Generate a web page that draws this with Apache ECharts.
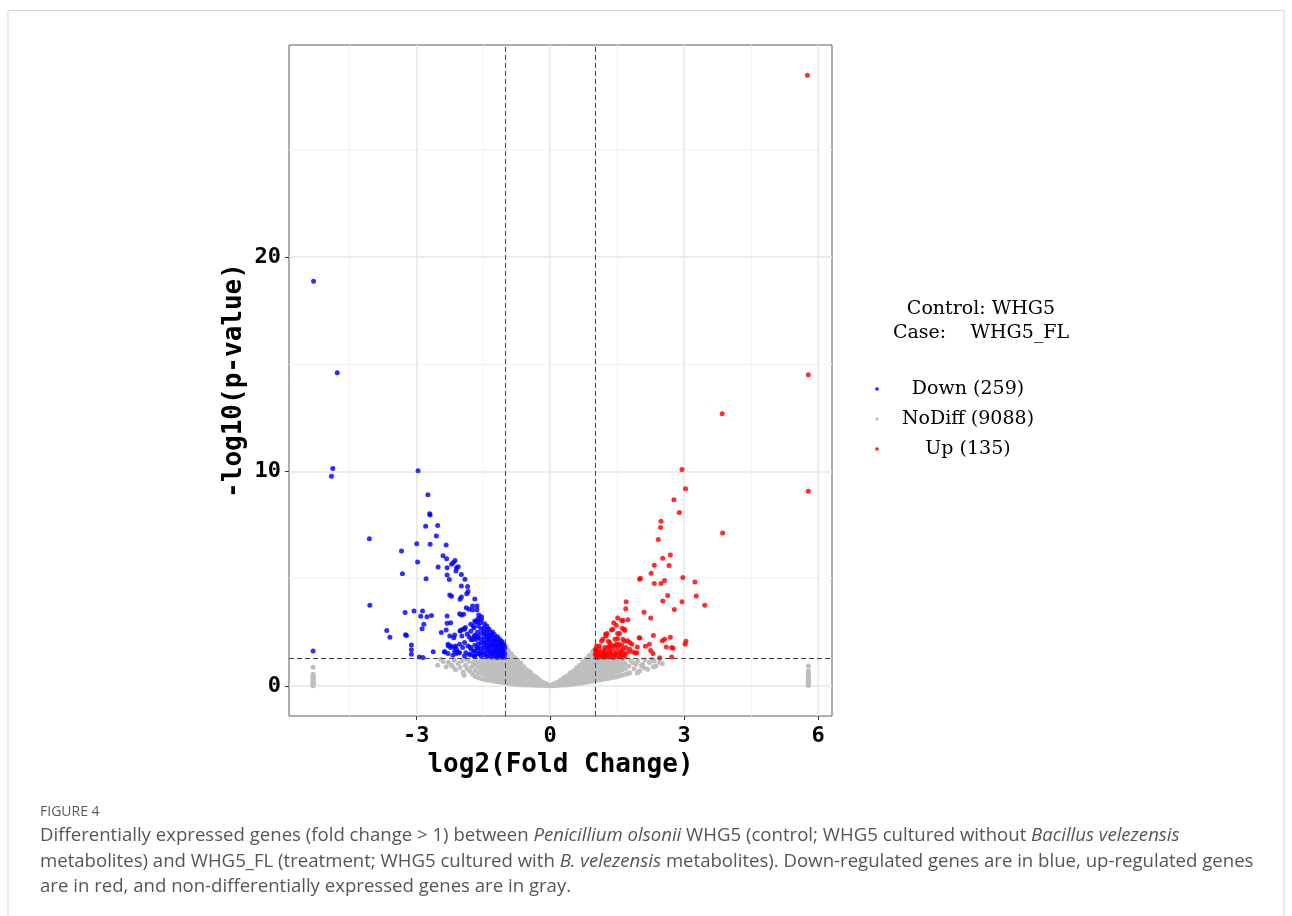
<!DOCTYPE html>
<html>
<head>
<meta charset="utf-8">
<script src="https://cdn.jsdelivr.net/npm/echarts@6/dist/echarts.min.js"></script>
<style>
  html, body { margin: 0; padding: 0; background: #ffffff; }
  #chart { width: 1292px; height: 916px; }
</style>
</head>
<body>
<div id="chart"></div>
<script>
// Volcano plot: log2 fold change vs -log10(p-value), WHG5 vs WHG5_FL

// Axis ticks
const xTicks = [-3, 0, 3, 6];
const yTicks = [0, 10, 20];
const xMinorGrid = [-4.5, -1.5, 1.5, 4.5];
const yMinorGrid = [5, 15, 25];

// Significance thresholds
const fcCut = [-1, 1];
const pCut = 1.301; // -log10(0.05)

// Legend text
const legendTitle = ['Control: WHG5', 'Case:    WHG5_FL'];
const groupNames = ['Down (259)', 'NoDiff (9088)', 'Up (135)'];

// Caption
const captionHead = 'FIGURE 4';

// Down-regulated genes [log2FC, -log10 p]
const downPoints = [
  [-5.30,18.86],[-4.77,14.60],[-4.87,10.13],[-4.90,9.77],[-4.05,6.86],[-4.04,3.76],[-5.31,1.63],
  [-3.66,2.59],[-3.59,2.27],[-3.24,2.39],[-3.22,2.35],[-3.11,1.91],[-3.11,1.69],[-3.11,1.48],
  [-3.33,6.29],[-3.31,5.23],[-3.25,3.42],[-3.05,3.49],[-2.93,1.35],[-2.85,1.33],
  [-2.96,10.03],[-2.74,8.91],[-2.70,8.02],[-2.69,7.97],[-2.79,7.44],[-2.52,7.48],[-2.55,6.99],
  [-2.99,6.63],[-2.69,6.60],[-2.33,6.57],[-2.97,5.78],[-2.40,6.07],[-2.32,5.93],[-2.21,5.67],
  [-2.17,5.75],[-2.13,5.85],[-2.51,5.54],[-2.31,5.51],[-2.10,5.51],[-2.06,5.56],[-2.11,5.36],
  [-2.31,5.17],[-1.99,5.20],[-2.78,5.00],[-2.26,4.96],[-1.91,4.97],[-1.85,4.64],[-1.99,4.66],
  [-1.84,4.40],[-1.87,4.30],[-2.25,4.24],[-2.21,4.18],[-1.99,4.15],[-2.02,4.04],[-1.69,4.05],
  [-1.88,3.65],[-1.82,3.57],[-1.74,3.73],[-1.64,3.73],[-1.74,3.54],[-1.64,3.54],[-1.60,3.31],
  [-1.54,3.23],[-2.03,3.37],[-1.99,3.31],[-1.94,3.34],[-2.31,3.26],
  [-2.86,3.49],[-2.90,3.25],[-2.76,3.23],[-2.66,3.28],[-2.83,2.87],[-2.87,2.67],
  [-2.62,1.60],[-2.31,2.92],[-2.33,2.61],[-2.23,2.95],[-2.44,2.49],[-2.14,2.38],[-2.28,1.86],
  [-2.23,1.79],[-2.36,1.58],[-2.12,1.86],[-2.10,1.70],[-2.14,1.62],[-2.06,1.57],
  [-1.96,2.64],[-2.02,2.56],[-1.90,2.72],
  [-1.62,3.13],[-1.69,3.03],[-1.67,2.98],[-1.62,3.00],[-1.78,2.87],[-1.72,2.79],
  [-1.92,2.64],[-2.01,2.59],[-1.98,2.33],[-1.86,2.41],[-1.81,2.28],[-1.69,2.36],[-1.62,2.33],
  [-1.73,2.17],[-1.66,2.16],
  [-2.25,2.33],[-2.16,2.25],[-2.29,1.94],[-2.22,1.86],[-2.14,1.79],[-2.03,1.94],[-1.92,2.02],
  [-1.96,1.79],[-1.84,1.86],[-1.77,1.71],[-1.69,1.63],[-1.62,1.79],[-1.89,1.55],[-2.03,1.55],
  [-2.10,1.51],[-2.29,1.51],[-2.18,1.43],[-2.37,1.60],[-1.92,1.40],[-1.81,1.48],[-1.69,1.40],[-1.58,1.51],
  [-1.03,1.36],[-1.02,1.50],[-1.04,1.64],[-1.02,1.77],[-1.03,1.90],
  [-1.08,1.34],[-1.09,1.45],[-1.07,1.59],[-1.08,1.72],[-1.09,1.85],[-1.07,1.98],[-1.08,2.07],
  [-1.13,1.39],[-1.14,1.52],[-1.12,1.66],[-1.13,1.81],[-1.14,1.94],[-1.12,2.06],[-1.13,2.18],
  [-1.19,1.33],[-1.18,1.47],[-1.20,1.61],[-1.19,1.75],[-1.18,1.89],[-1.20,2.02],[-1.19,2.15],[-1.18,2.29],
  [-1.24,1.41],[-1.25,1.55],[-1.23,1.70],[-1.24,1.84],[-1.25,1.98],[-1.24,2.12],[-1.23,2.26],[-1.25,2.40],
  [-1.30,1.35],[-1.31,1.50],[-1.29,1.64],[-1.30,1.79],[-1.31,1.93],[-1.29,2.08],[-1.30,2.22],[-1.31,2.37],[-1.29,2.52],
  [-1.36,1.42],[-1.35,1.58],[-1.37,1.73],[-1.36,1.88],[-1.35,2.04],[-1.37,2.19],[-1.36,2.35],[-1.35,2.50],[-1.37,2.64],
  [-1.42,1.37],[-1.43,1.52],[-1.41,1.68],[-1.42,1.85],[-1.43,2.01],[-1.41,2.16],[-1.42,2.33],[-1.43,2.49],[-1.41,2.66],[-1.42,2.80],
  [-1.48,1.45],[-1.49,1.62],[-1.47,1.80],[-1.48,1.98],[-1.49,2.14],[-1.47,2.32],[-1.48,2.52],[-1.49,2.70],[-1.47,2.90],
  [-1.55,1.40],[-1.56,1.58],[-1.54,1.77],[-1.55,2.00],[-1.56,2.20],[-1.54,2.44],[-1.55,2.66],[-1.56,2.95],[-1.54,3.10],
  [-1.62,1.50],[-1.63,1.72],[-1.61,1.95],[-1.62,2.25],[-1.63,2.50],[-1.61,2.80],
  [-1.70,1.38],[-1.71,1.62],[-1.69,1.90],[-1.70,2.30],[-1.71,2.70],
  [-1.78,1.45],[-1.79,1.80],[-1.77,2.15],[-1.78,2.55]
];

// Up-regulated genes [log2FC, -log10 p]
const upPoints = [
  [5.76,28.46],[5.78,14.50],[3.85,12.69],[2.95,10.09],[3.03,9.19],[5.78,9.07],[2.77,8.68],
  [2.89,8.08],[2.48,7.67],[2.47,7.39],[3.86,7.13],[2.42,6.82],[2.69,6.10],[2.52,5.95],
  [2.33,5.62],[2.66,5.61],[2.26,5.25],[2.00,4.97],[2.02,5.02],[2.33,4.77],[2.48,4.77],
  [2.56,4.92],[2.97,5.05],[3.24,4.84],[2.63,4.22],[3.27,4.19],[2.52,3.96],[2.95,3.93],
  [3.46,3.76],[2.78,3.56],
  [1.70,3.93],[1.69,3.60],[1.74,3.09],[1.51,3.17],[1.60,3.05],[1.63,3.05],[1.42,2.95],
  [1.48,2.83],[1.61,2.69],[1.66,2.64],[1.67,2.58],[1.55,2.44],[1.40,2.64],[1.37,2.61],
  [1.27,2.45],[1.24,2.41],[1.18,2.18],[1.15,2.10],[1.30,2.08],[1.45,2.18],[1.51,2.21],
  [1.63,2.18],[1.66,2.08],[1.73,2.11],[1.54,1.94],[1.60,1.90],[1.37,1.90],[1.33,1.84],
  [1.22,1.79],[1.10,1.71],[1.04,1.86],[1.03,1.63],[1.83,1.94],[1.95,1.82],[1.99,2.25],
  [2.01,2.24],[2.10,3.43],[2.25,3.17],[2.31,2.35],[2.51,2.11],[2.69,2.27],[2.60,1.82],
  [2.72,1.79],[2.75,1.76],[3.04,2.08],[3.02,1.94],[2.13,1.85],[2.25,1.65],[2.30,1.51],
  [2.45,1.32],[2.72,1.35],[1.91,1.52],[1.94,1.55],
  [1.03,1.40],[1.14,1.43],[1.25,1.40],[1.37,1.43],[1.48,1.40],[1.09,1.52],[1.18,1.58],
  [1.25,1.55],[1.33,1.63],[1.40,1.71],[1.48,1.58],[1.55,1.55],[1.63,1.71],[1.69,1.79],
  [1.75,1.58],[1.22,1.68],[1.29,1.79],[1.44,1.86],[1.51,1.79],[1.59,1.63],[1.66,1.52],
  [1.78,1.71],[1.85,1.58],[1.10,1.86],[1.01,1.71],[1.01,1.48],
  [1.06,1.33],[1.12,1.36],[1.20,1.34],[1.30,1.35],[1.42,1.33],[1.55,1.36],[1.62,1.34],
  [1.07,1.46],[1.16,1.50],[1.35,1.52],[1.44,1.49],[1.58,1.45],[1.68,1.42],[1.21,1.45],
  [1.05,1.55],[1.28,1.47],
  [1.25,2.33],[1.51,2.45],[1.33,2.02],[1.48,1.94],[1.78,2.02],[2.22,1.94],[2.56,2.18]
];

// Non-differential genes [log2FC, -log10 p]
const noDiffPoints = [
  // column of extreme negative fold changes
  [-5.31,0.87],[-5.31,0.55],[-5.31,0.48],[-5.31,0.42],[-5.31,0.36],[-5.31,0.30],[-5.31,0.25],
  [-5.31,0.20],[-5.31,0.15],[-5.31,0.10],[-5.31,0.06],[-5.31,0.03],[-5.31,0.01],
  // column of extreme positive fold changes
  [5.78,0.93],[5.78,0.70],[5.78,0.62],[5.78,0.55],[5.78,0.48],[5.78,0.41],[5.78,0.35],
  [5.78,0.28],[5.78,0.22],[5.78,0.16],[5.78,0.11],[5.78,0.06],[5.78,0.02],
  // left arm
  [-0.04,0.01],[-0.04,0.05],
  [-0.10,0.01],[-0.10,0.06],[-0.10,0.11],
  [-0.17,0.02],[-0.17,0.10],[-0.17,0.19],
  [-0.24,0.02],[-0.24,0.11],[-0.24,0.20],[-0.24,0.29],
  [-0.31,0.03],[-0.31,0.13],[-0.31,0.24],[-0.31,0.35],[-0.31,0.41],
  [-0.38,0.03],[-0.38,0.14],[-0.38,0.26],[-0.38,0.38],[-0.38,0.50],
  [-0.45,0.04],[-0.45,0.16],[-0.45,0.29],[-0.45,0.42],[-0.45,0.55],[-0.45,0.65],
  [-0.52,0.05],[-0.52,0.18],[-0.52,0.32],[-0.52,0.46],[-0.52,0.60],[-0.52,0.74],
  [-0.59,0.05],[-0.59,0.19],[-0.59,0.34],[-0.59,0.49],[-0.59,0.64],[-0.59,0.79],[-0.59,0.90],
  [-0.66,0.06],[-0.66,0.21],[-0.66,0.37],[-0.66,0.53],[-0.66,0.69],[-0.66,0.85],[-0.66,1.01],[-0.66,1.07],
  [-0.73,0.07],[-0.73,0.23],[-0.73,0.39],[-0.73,0.56],[-0.73,0.73],[-0.73,0.90],[-0.73,1.06],[-0.73,1.21],
  [-0.80,0.08],[-0.80,0.25],[-0.80,0.42],[-0.80,0.60],[-0.80,0.78],[-0.80,0.96],[-0.80,1.14],[-0.80,1.33],
  [-0.87,0.10],[-0.87,0.27],[-0.87,0.45],[-0.87,0.64],[-0.87,0.83],[-0.87,1.02],[-0.87,1.21],[-0.87,1.40],[-0.87,1.50],
  [-0.94,0.12],[-0.94,0.30],[-0.94,0.49],[-0.94,0.68],[-0.94,0.87],[-0.94,1.06],[-0.94,1.26],[-0.94,1.46],[-0.94,1.66],
  [-0.99,0.14],[-0.99,0.33],[-0.99,0.52],[-0.99,0.72],[-0.99,0.92],[-0.99,1.12],[-0.99,1.32],[-0.99,1.52],[-0.99,1.70],[-0.99,1.84],
  [-1.05,0.16],[-1.05,0.34],[-1.05,0.53],[-1.05,0.72],[-1.05,0.91],[-1.05,1.10],[-1.05,1.27],
  [-1.12,0.18],[-1.12,0.36],[-1.12,0.55],[-1.12,0.74],[-1.12,0.93],[-1.12,1.12],[-1.12,1.27],
  [-1.19,0.20],[-1.19,0.39],[-1.19,0.58],[-1.19,0.77],[-1.19,0.96],[-1.19,1.14],[-1.19,1.28],
  [-1.26,0.22],[-1.26,0.41],[-1.26,0.60],[-1.26,0.79],[-1.26,0.98],[-1.26,1.17],
  [-1.33,0.25],[-1.33,0.44],[-1.33,0.63],[-1.33,0.82],[-1.33,1.01],[-1.33,1.20],
  [-1.40,0.27],[-1.40,0.47],[-1.40,0.66],[-1.40,0.86],[-1.40,1.05],[-1.40,1.24],
  [-1.47,0.30],[-1.47,0.52],[-1.47,0.74],[-1.47,0.95],[-1.47,1.16],
  [-1.54,0.34],[-1.54,0.58],[-1.54,0.80],[-1.54,1.02],[-1.54,1.25],
  [-1.61,0.38],[-1.61,0.63],[-1.61,0.88],[-1.61,1.12],
  [-1.68,0.44],[-1.68,0.72],[-1.68,0.98],[-1.68,1.22],
  [-1.74,0.55],[-1.76,0.90],[-1.72,1.08],[-1.80,0.68],[-1.82,1.14],[-1.86,0.80],[-1.90,0.97],
  [-1.88,1.25],[-1.95,0.64],[-1.98,1.18],[-2.02,0.86],[-2.06,1.05],[-2.12,0.76],[-2.15,1.20],
  [-2.22,0.98],[-2.28,1.10],[-2.33,0.90],[-2.40,1.14],[-2.52,0.96],[-2.18,0.90],[-1.93,0.50],[-2.45,1.25],
  // right arm
  [0.04,0.01],[0.04,0.05],
  [0.10,0.01],[0.10,0.06],[0.10,0.11],
  [0.17,0.02],[0.17,0.10],[0.17,0.18],
  [0.24,0.03],[0.24,0.11],[0.24,0.20],[0.24,0.28],
  [0.31,0.04],[0.31,0.13],[0.31,0.23],[0.31,0.33],[0.31,0.39],
  [0.38,0.05],[0.38,0.15],[0.38,0.26],[0.38,0.37],[0.38,0.48],
  [0.45,0.07],[0.45,0.17],[0.45,0.29],[0.45,0.41],[0.45,0.53],[0.45,0.61],
  [0.52,0.09],[0.52,0.20],[0.52,0.32],[0.52,0.45],[0.52,0.58],[0.52,0.70],
  [0.59,0.11],[0.59,0.23],[0.59,0.36],[0.59,0.49],[0.59,0.62],[0.59,0.75],[0.59,0.85],
  [0.66,0.13],[0.66,0.26],[0.66,0.39],[0.66,0.53],[0.66,0.67],[0.66,0.81],[0.66,0.96],
  [0.73,0.15],[0.73,0.29],[0.73,0.43],[0.73,0.57],[0.73,0.72],[0.73,0.87],[0.73,1.02],[0.73,1.13],
  [0.80,0.17],[0.80,0.32],[0.80,0.47],[0.80,0.62],[0.80,0.78],[0.80,0.94],[0.80,1.10],[0.80,1.26],
  [0.87,0.19],[0.87,0.35],[0.87,0.51],[0.87,0.67],[0.87,0.84],[0.87,1.01],[0.87,1.18],[0.87,1.34],[0.87,1.42],
  [0.94,0.22],[0.94,0.38],[0.94,0.55],[0.94,0.72],[0.94,0.89],[0.94,1.06],[0.94,1.24],[0.94,1.42],[0.94,1.58],
  [0.99,0.25],[0.99,0.42],[0.99,0.59],[0.99,0.77],[0.99,0.95],[0.99,1.13],[0.99,1.31],[0.99,1.49],[0.99,1.66],
  [1.05,0.27],[1.05,0.44],[1.05,0.62],[1.05,0.80],[1.05,0.98],[1.05,1.14],[1.05,1.27],
  [1.12,0.29],[1.12,0.47],[1.12,0.65],[1.12,0.83],[1.12,1.01],[1.12,1.17],[1.12,1.28],
  [1.19,0.31],[1.19,0.50],[1.19,0.68],[1.19,0.86],[1.19,1.04],[1.19,1.20],
  [1.26,0.34],[1.26,0.53],[1.26,0.72],[1.26,0.90],[1.26,1.08],[1.26,1.25],
  [1.33,0.36],[1.33,0.56],[1.33,0.75],[1.33,0.94],[1.33,1.12],[1.33,1.27],
  [1.40,0.39],[1.40,0.60],[1.40,0.80],[1.40,1.00],[1.40,1.18],
  [1.47,0.42],[1.47,0.64],[1.47,0.85],[1.47,1.05],[1.47,1.24],
  [1.54,0.46],[1.54,0.69],[1.54,0.91],[1.54,1.12],
  [1.61,0.50],[1.61,0.74],[1.61,0.97],[1.61,1.19],
  [1.68,0.54],[1.68,0.80],[1.68,1.05],
  [1.74,0.58],[1.78,0.62],[1.76,0.92],[1.80,1.18],[1.85,1.09],[1.88,0.80],[1.92,1.02],
  [1.96,1.16],[2.00,0.70],[2.04,0.94],[2.07,1.01],[2.12,1.22],[2.18,0.78],[2.22,1.09],
  [2.28,1.24],[2.31,0.89],[2.33,1.16],[2.37,0.93],[2.45,1.10],[2.51,1.04],[1.95,0.60],[2.10,0.85]
];

const monoBold = { fontFamily: 'DejaVu Sans Mono', fontWeight: 'bold', color: '#000' };
const serif19 = '19px "DejaVu Serif"';
const captionFont = '18.6px "Open Sans"';
const captionColor = '#555';

function gridLines(values, axis, color, width) {
  return values.map(v => ({ [axis]: v, lineStyle: { color: color, width: width, type: 'solid' } }));
}

function legendText(text, x, y) {
  return { type: 'text', x: x, y: y, silent: true,
    style: { text: text, font: serif19, fill: '#000', align: 'center', verticalAlign: 'middle' } };
}

const chart = echarts.init(document.getElementById('chart'), null, { renderer: 'canvas' });

chart.setOption({
  animation: false,
  backgroundColor: '#ffffff',
  grid: {
    left: 289, top: 45, width: 543, height: 671,
    show: true, borderColor: '#5a5a5a', borderWidth: 1, backgroundColor: 'transparent'
  },
  xAxis: {
    type: 'value', min: -5.85, max: 6.31,
    name: 'log2(Fold Change)', nameLocation: 'middle', nameGap: 33,
    nameTextStyle: Object.assign({ fontSize: 26 }, monoBold),
    axisLine: { show: false, onZero: false },
    axisTick: { show: true, customValues: xTicks, length: 4, lineStyle: { color: '#333', width: 1 } },
    axisLabel: Object.assign({ customValues: xTicks, fontSize: 22, margin: 9 }, monoBold),
    splitLine: { show: false }
  },
  yAxis: {
    type: 'value', min: -1.40, max: 29.87,
    name: '-log10(p-value)', nameLocation: 'middle', nameGap: 42, nameRotate: 90,
    nameTextStyle: Object.assign({ fontSize: 26 }, monoBold),
    axisLine: { show: false, onZero: false },
    axisTick: { show: true, customValues: yTicks, length: 4, lineStyle: { color: '#333', width: 1 } },
    axisLabel: Object.assign({ customValues: yTicks, fontSize: 22, margin: 8 }, monoBold),
    splitLine: { show: false }
  },
  series: [
    {
      // background grid
      type: 'scatter', data: [], silent: true, z: 0,
      markLine: {
        silent: true, z: 0, symbol: ['none', 'none'], label: { show: false },
        animation: false,
        data: [].concat(
          gridLines(xMinorGrid, 'xAxis', '#f2f2f2', 1),
          gridLines(yMinorGrid, 'yAxis', '#f2f2f2', 1),
          gridLines(xTicks, 'xAxis', '#e6e6e6', 1.5),
          gridLines(yTicks, 'yAxis', '#e6e6e6', 1.5)
        )
      }
    },
    {
      name: 'NoDiff', type: 'scatter', data: noDiffPoints, z: 2,
      symbolSize: 5, itemStyle: { color: '#bebebe', opacity: 1 }, silent: true
    },
    {
      name: 'Down', type: 'scatter', data: downPoints, z: 3,
      symbolSize: 5, itemStyle: { color: '#0000ff', opacity: 0.82 }, silent: true
    },
    {
      name: 'Up', type: 'scatter', data: upPoints, z: 3,
      symbolSize: 5, itemStyle: { color: '#ff0000', opacity: 0.82 }, silent: true
    },
    {
      // threshold lines
      type: 'scatter', data: [], silent: true, z: 5,
      markLine: {
        silent: true, z: 5, symbol: ['none', 'none'], label: { show: false },
        animation: false,
        lineStyle: { color: '#444', width: 1, type: [5, 3] },
        data: [{ xAxis: fcCut[0] }, { xAxis: fcCut[1] }, { yAxis: pCut }]
      }
    }
  ],
  graphic: [
    // figure frame
    { type: 'polyline', silent: true, shape: { points: [[8, 916], [8, 10.5], [1284, 10.5], [1284, 916]] },
      style: { stroke: '#d4d4d4', lineWidth: 1, fill: null } },
    // legend title
    legendText(legendTitle[0], 981, 309),
    legendText(legendTitle[1], 981, 333),
    // legend keys
    { type: 'circle', silent: true, shape: { cx: 877, cy: 389, r: 1.8 }, style: { fill: '#2020ff' } },
    { type: 'circle', silent: true, shape: { cx: 877, cy: 419, r: 1.8 }, style: { fill: '#c8c8c8' } },
    { type: 'circle', silent: true, shape: { cx: 877, cy: 449, r: 1.8 }, style: { fill: '#ff2020' } },
    legendText(groupNames[0], 968, 389),
    legendText(groupNames[1], 968, 419),
    legendText(groupNames[2], 968, 449),
    // caption
    { type: 'text', x: 40, y: 812, silent: true,
      style: { text: captionHead, font: '14px "Open Sans"', fill: '#5a5a5a', align: 'left', verticalAlign: 'middle' } },
    { type: 'text', x: 40, y: 836, silent: true,
      style: {
        text: '{n|Differentially expressed genes (fold change > 1) between }{i|Penicillium olsonii}{n| WHG5 (control; WHG5 cultured without }{i|Bacillus velezensis}',
        align: 'left', verticalAlign: 'middle',
        rich: {
          n: { font: captionFont, fill: captionColor, color: captionColor },
          i: { font: 'italic ' + captionFont, fill: captionColor, color: captionColor }
        }
      } },
    { type: 'text', x: 40, y: 862, silent: true,
      style: {
        text: '{n|metabolites) and WHG5_FL (treatment; WHG5 cultured with }{i|B. velezensis}{n| metabolites). Down-regulated genes are in blue, up-regulated genes}',
        align: 'left', verticalAlign: 'middle',
        rich: {
          n: { font: captionFont, fill: captionColor, color: captionColor },
          i: { font: 'italic ' + captionFont, fill: captionColor, color: captionColor }
        }
      } },
    { type: 'text', x: 40, y: 887, silent: true,
      style: { text: 'are in red, and non-differentially expressed genes are in gray.',
        font: captionFont, fill: captionColor, align: 'left', verticalAlign: 'middle' } }
  ]
});
</script>
</body>
</html>
